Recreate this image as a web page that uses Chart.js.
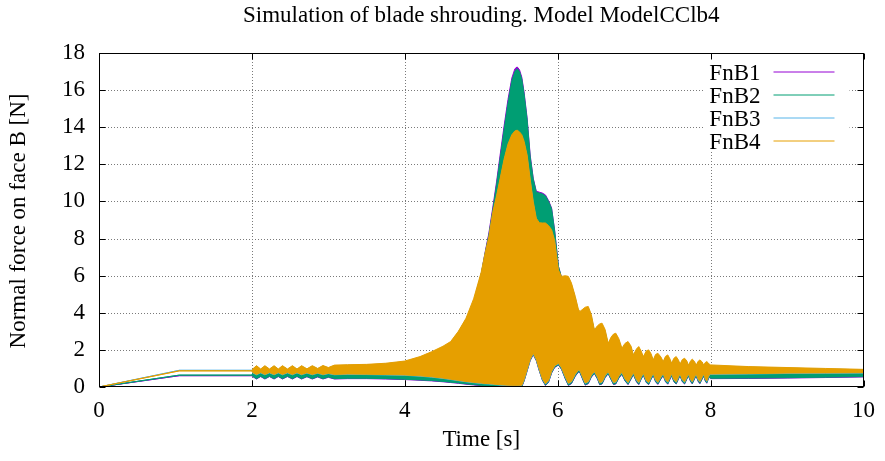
<!DOCTYPE html>
<html>
<head>
<meta charset="utf-8">
<script src="https://cdn.jsdelivr.net/npm/chart.js@4.4.1/dist/chart.umd.min.js"></script>
<style>
  html, body { margin: 0; padding: 0; background: #fff; }
  #wrap { width: 885px; height: 461px; position: relative; }
</style>
</head>
<body>
<div id="wrap"><canvas id="grafica"></canvas></div>
<script>
// ---------------------------------------------
// Normal force on face B -- envelopes of FnB1..4
// (each curve oscillates fast, so it is drawn as
//  the band between its upper and lower envelope)
// ---------------------------------------------

const seriesNames = ["FnB1", "FnB2", "FnB3", "FnB4"];
const xTicks = [0, 2, 4, 6, 8, 10];
const yTicks = [0, 2, 4, 6, 8, 10, 12, 14, 16, 18];

// time [s]
const time = [
  0, 1.05, 2.0, 2.01,
  2.06, 2.115, 2.17, 2.23, 2.29, 2.345, 2.40, 2.465, 2.53, 2.59, 2.65, 2.72, 2.79, 2.86, 2.93, 3.0, 3.08,
  3.25, 3.5, 3.75, 4.0, 4.2, 4.35, 4.5, 4.6, 4.7, 4.8, 4.9, 5.0, 5.05, 5.1, 5.15, 5.2, 5.25, 5.3, 5.35, 5.4,
  5.44, 5.47, 5.5, 5.53, 5.56, 5.6, 5.64, 5.68, 5.72, 5.76, 5.8, 5.84, 5.88, 5.92, 5.96, 6.01, 6.05,
  6.10, 6.14, 6.18, 6.23, 6.27, 6.29, 6.33, 6.36, 6.40, 6.44, 6.48, 6.52, 6.55, 6.58, 6.62, 6.66, 6.70, 6.73, 6.76,
  6.80, 6.84, 6.88, 6.92, 6.96, 6.99, 7.03, 7.06, 7.09, 7.12, 7.16, 7.19, 7.22, 7.25, 7.28, 7.31, 7.35, 7.38, 7.41, 7.44,
  7.47, 7.49, 7.52, 7.55, 7.58, 7.60, 7.63, 7.66, 7.69, 7.71, 7.74, 7.76, 7.79, 7.81, 7.84, 7.86, 7.89, 7.91, 7.93, 7.95, 7.97, 7.99,
  8.0, 8.5, 9.0, 9.5, 10.0
];

// FnB1 (purple)
const fnb1High = [
  0, 0.61, 0.61, 0.72,
  0.72, 0.72, 0.72, 0.72, 0.72, 0.72, 0.72, 0.72, 0.73, 0.73, 0.73, 0.74, 0.75, 0.76, 0.77, 0.77, 0.79,
  0.85, 0.90, 0.95, 1.05, 1.30, 1.60, 1.90, 2.20, 2.80, 3.50, 4.50, 6.10, 7.25, 8.30, 9.65, 11.05, 12.60, 14.10, 15.50, 16.65,
  17.15, 17.25, 17.10, 16.70, 15.90, 14.50, 12.50, 11.25, 10.55, 10.50, 10.45, 10.35, 10.05, 9.65, 8.45, 6.50, 5.90,
  5.80, 5.70, 5.40, 4.70, 4.05, 3.95, 4.05, 4.10, 4.10, 3.70, 3.00, 3.10, 3.20, 3.20, 2.90, 2.30, 2.50, 2.60, 2.60,
  2.40, 2.00, 2.20, 2.30, 2.00, 1.70, 1.90, 2.00, 1.80, 1.60, 1.80, 1.85, 1.70, 1.40, 1.60, 1.65, 1.50, 1.30, 1.50, 1.55,
  1.40, 1.25, 1.40, 1.50, 1.35, 1.20, 1.35, 1.40, 1.30, 1.15, 1.30, 1.35, 1.25, 1.15, 1.30, 1.35, 1.25, 1.15, 1.25, 1.30, 1.20, 1.00,
  0.75, 0.75, 0.76, 0.77, 0.78
];
const fnb1Low = [
  0, 0.61, 0.61, 0.56,
  0.43, 0.56, 0.43, 0.56, 0.43, 0.56, 0.43, 0.56, 0.43, 0.56, 0.43, 0.55, 0.43, 0.54, 0.43, 0.52, 0.43,
  0.45, 0.45, 0.43, 0.40, 0.36, 0.33, 0.28, 0.24, 0.20, 0.15, 0.11, 0.07, 0.05, 0.04, 0.03, 0.02, 0.02, 0.01, 0.01, 0.01,
  0.00, 0.00, 0.00, 0.01, 0.31, 0.86, 1.42, 1.74, 1.42, 0.86, 0.36, 0.08, 0.25, 0.75, 1.05, 1.18, 0.95,
  0.43, 0.08, 0.18, 0.58, 0.80, 0.78, 0.38, 0.10, 0.18, 0.53, 0.72, 0.43, 0.12, 0.16, 0.50, 0.71, 0.38, 0.13, 0.16,
  0.48, 0.68, 0.33, 0.13, 0.43, 0.66, 0.28, 0.13, 0.40, 0.63, 0.23, 0.13, 0.40, 0.62, 0.28, 0.14, 0.43, 0.61, 0.28, 0.15,
  0.43, 0.60, 0.28, 0.16, 0.43, 0.60, 0.28, 0.16, 0.43, 0.59, 0.28, 0.17, 0.43, 0.59, 0.28, 0.18, 0.43, 0.58, 0.33, 0.20, 0.43, 0.53,
  0.45, 0.46, 0.48, 0.51, 0.54
];

// FnB2 (green)
const fnb2High = [
  0, 0.64, 0.64, 0.75,
  0.75, 0.75, 0.75, 0.75, 0.75, 0.75, 0.75, 0.75, 0.76, 0.76, 0.76, 0.77, 0.78, 0.79, 0.80, 0.80, 0.82,
  0.85, 0.90, 0.95, 1.05, 1.30, 1.60, 1.90, 2.20, 2.80, 3.50, 4.50, 6.10, 7.20, 8.20, 9.50, 10.90, 12.40, 13.90, 15.30, 16.50,
  17.00, 17.15, 17.00, 16.60, 15.80, 14.40, 12.40, 11.20, 10.50, 10.45, 10.40, 10.30, 10.00, 9.60, 8.40, 6.50, 5.90,
  5.80, 5.70, 5.40, 4.70, 4.05, 3.95, 4.05, 4.10, 4.10, 3.70, 3.00, 3.10, 3.20, 3.20, 2.90, 2.30, 2.50, 2.60, 2.60,
  2.40, 2.00, 2.20, 2.30, 2.00, 1.70, 1.90, 2.00, 1.80, 1.60, 1.80, 1.85, 1.70, 1.40, 1.60, 1.65, 1.50, 1.30, 1.50, 1.55,
  1.40, 1.25, 1.40, 1.50, 1.35, 1.20, 1.35, 1.40, 1.30, 1.15, 1.30, 1.35, 1.25, 1.15, 1.30, 1.35, 1.25, 1.15, 1.25, 1.30, 1.20, 1.00,
  0.75, 0.75, 0.76, 0.77, 0.78
];
const fnb2Low = [
  0, 0.64, 0.64, 0.58,
  0.45, 0.58, 0.45, 0.58, 0.45, 0.58, 0.45, 0.58, 0.45, 0.58, 0.45, 0.57, 0.45, 0.56, 0.45, 0.54, 0.45,
  0.47, 0.47, 0.45, 0.42, 0.38, 0.35, 0.30, 0.26, 0.22, 0.17, 0.13, 0.09, 0.07, 0.06, 0.05, 0.04, 0.04, 0.03, 0.03, 0.03,
  0.02, 0.02, 0.02, 0.03, 0.33, 0.88, 1.44, 1.76, 1.44, 0.88, 0.38, 0.10, 0.27, 0.77, 1.07, 1.20, 0.97,
  0.45, 0.10, 0.20, 0.60, 0.82, 0.80, 0.40, 0.12, 0.20, 0.55, 0.74, 0.45, 0.14, 0.18, 0.52, 0.73, 0.40, 0.15, 0.18,
  0.50, 0.70, 0.35, 0.15, 0.45, 0.68, 0.30, 0.15, 0.42, 0.65, 0.25, 0.15, 0.42, 0.64, 0.30, 0.16, 0.45, 0.63, 0.30, 0.17,
  0.45, 0.62, 0.30, 0.18, 0.45, 0.62, 0.30, 0.18, 0.45, 0.61, 0.30, 0.19, 0.45, 0.61, 0.30, 0.20, 0.45, 0.60, 0.35, 0.22, 0.45, 0.55,
  0.47, 0.48, 0.50, 0.53, 0.56
];

// FnB3 (sky blue)
const fnb3High = [
  0, 0.90, 0.90, 0.95,
  1.12, 0.95, 1.12, 0.95, 1.12, 0.95, 1.12, 0.95, 1.12, 0.95, 1.12, 0.96, 1.12, 0.98, 1.13, 1.02, 1.15,
  1.17, 1.19, 1.25, 1.36, 1.60, 1.85, 2.15, 2.40, 2.95, 3.65, 4.55, 6.10, 7.10, 8.00, 9.30, 10.20, 11.20, 12.20, 13.00, 13.50,
  13.70, 13.75, 13.65, 13.50, 13.15, 12.40, 11.10, 9.90, 9.00, 8.75, 8.74, 8.74, 8.60, 8.38, 7.80, 6.20, 5.90,
  5.92, 5.88, 5.52, 4.80, 4.12, 4.00, 4.12, 4.22, 4.26, 3.82, 3.02, 3.22, 3.32, 3.36, 3.02, 2.30, 2.62, 2.77, 2.82,
  2.52, 2.03, 2.28, 2.38, 2.13, 1.68, 1.98, 2.11, 1.88, 1.59, 1.88, 1.93, 1.73, 1.41, 1.68, 1.75, 1.56, 1.32, 1.59, 1.66,
  1.44, 1.24, 1.49, 1.58, 1.39, 1.19, 1.42, 1.49, 1.34, 1.13, 1.36, 1.44, 1.32, 1.13, 1.34, 1.40, 1.29, 1.13, 1.27, 1.31, 1.25, 1.16,
  1.15, 1.07, 1.02, 0.97, 0.93
];
const fnb3Low = [
  0, 0.90, 0.90, 0.76,
  0.66, 0.76, 0.66, 0.76, 0.66, 0.76, 0.66, 0.76, 0.66, 0.76, 0.66, 0.75, 0.66, 0.74, 0.66, 0.72, 0.66,
  0.68, 0.67, 0.65, 0.63, 0.58, 0.53, 0.46, 0.40, 0.34, 0.28, 0.23, 0.19, 0.17, 0.16, 0.14, 0.12, 0.10, 0.09, 0.08, 0.07,
  0.07, 0.07, 0.07, 0.08, 0.38, 0.93, 1.48, 1.80, 1.48, 0.93, 0.43, 0.16, 0.33, 0.83, 1.13, 1.26, 1.03,
  0.53, 0.18, 0.28, 0.68, 0.90, 0.88, 0.48, 0.20, 0.28, 0.63, 0.82, 0.53, 0.22, 0.26, 0.60, 0.81, 0.48, 0.23, 0.26,
  0.58, 0.78, 0.43, 0.23, 0.53, 0.76, 0.38, 0.23, 0.50, 0.73, 0.33, 0.23, 0.50, 0.72, 0.38, 0.24, 0.53, 0.71, 0.38, 0.25,
  0.53, 0.70, 0.38, 0.26, 0.53, 0.70, 0.38, 0.26, 0.53, 0.69, 0.38, 0.27, 0.53, 0.69, 0.38, 0.28, 0.53, 0.68, 0.43, 0.30, 0.53, 0.68,
  0.68, 0.70, 0.73, 0.74, 0.75
];

// FnB4 (orange)
const fnb4High = [
  0, 0.87, 0.87, 0.97,
  1.15, 0.97, 1.15, 0.97, 1.15, 0.97, 1.15, 0.97, 1.15, 0.97, 1.15, 0.98, 1.15, 1.00, 1.16, 1.05, 1.18,
  1.20, 1.22, 1.28, 1.40, 1.64, 1.90, 2.20, 2.45, 3.00, 3.70, 4.75, 6.20, 7.20, 8.10, 9.40, 10.30, 11.30, 12.30, 13.10, 13.60,
  13.80, 13.84, 13.75, 13.60, 13.25, 12.50, 11.20, 10.00, 9.10, 8.85, 8.84, 8.84, 8.70, 8.48, 7.90, 6.30, 5.96,
  6.00, 5.96, 5.60, 4.88, 4.20, 4.07, 4.20, 4.30, 4.34, 3.90, 3.08, 3.30, 3.40, 3.44, 3.10, 2.36, 2.70, 2.85, 2.90,
  2.60, 2.09, 2.35, 2.45, 2.20, 1.73, 2.05, 2.18, 1.95, 1.64, 1.95, 2.00, 1.80, 1.46, 1.75, 1.82, 1.62, 1.37, 1.65, 1.73,
  1.50, 1.28, 1.55, 1.64, 1.45, 1.23, 1.48, 1.55, 1.40, 1.17, 1.42, 1.50, 1.38, 1.17, 1.40, 1.46, 1.35, 1.17, 1.32, 1.37, 1.30, 1.20,
  1.19, 1.10, 1.05, 1.00, 0.95
];
const fnb4Low = [
  0, 0.87, 0.87, 0.78,
  0.68, 0.78, 0.68, 0.78, 0.68, 0.78, 0.68, 0.78, 0.68, 0.78, 0.68, 0.77, 0.68, 0.76, 0.68, 0.74, 0.68,
  0.70, 0.69, 0.67, 0.65, 0.60, 0.55, 0.48, 0.42, 0.36, 0.30, 0.25, 0.21, 0.19, 0.18, 0.16, 0.14, 0.12, 0.11, 0.10, 0.09,
  0.09, 0.09, 0.09, 0.10, 0.40, 0.95, 1.50, 1.82, 1.50, 0.95, 0.45, 0.18, 0.35, 0.85, 1.15, 1.28, 1.05,
  0.55, 0.20, 0.30, 0.70, 0.92, 0.90, 0.50, 0.22, 0.30, 0.65, 0.84, 0.55, 0.24, 0.28, 0.62, 0.83, 0.50, 0.25, 0.28,
  0.60, 0.80, 0.45, 0.25, 0.55, 0.78, 0.40, 0.25, 0.52, 0.75, 0.35, 0.25, 0.52, 0.74, 0.40, 0.26, 0.55, 0.73, 0.40, 0.27,
  0.55, 0.72, 0.40, 0.28, 0.55, 0.72, 0.40, 0.28, 0.55, 0.71, 0.40, 0.29, 0.55, 0.71, 0.40, 0.30, 0.55, 0.70, 0.45, 0.32, 0.55, 0.70,
  0.70, 0.72, 0.75, 0.76, 0.77
];

const colores = ["#9400d3", "#009e73", "#56b4e9", "#e69f00"];
const altos = [fnb1High, fnb2High, fnb3High, fnb4High];
const bajos = [fnb1Low, fnb2Low, fnb3Low, fnb4Low];

const FUENTE = "'Liberation Serif', 'Times New Roman', serif";
const TAM = 23;

// each series = upper line filled down to its lower line ('+1')
const datasets = [];
seriesNames.forEach((nombre, k) => {
    const orden = 4 - k; // FnB4 on top, as gnuplot draws last series last
    datasets.push({
        label: nombre,
        data: time.map((t, i) => ({ x: t, y: altos[k][i] })),
        borderColor: colores[k],
        backgroundColor: colores[k],
        borderWidth: 1,
        pointRadius: 0,
        fill: "+1",
        order: orden
    });
    datasets.push({
        label: nombre + " (low)",
        data: time.map((t, i) => ({ x: t, y: bajos[k][i] })),
        borderColor: colores[k],
        backgroundColor: colores[k],
        borderWidth: 1,
        pointRadius: 0,
        fill: false,
        order: orden
    });
});

// grid, frame, inward tics, key and labels in gnuplot style
const marcoGnuplot = {
    id: "marcoGnuplot",
    beforeDatasetsDraw(chart) {
        const { ctx, chartArea: a, scales } = chart;
        ctx.save();
        ctx.strokeStyle = "#7a7a7a";
        ctx.lineWidth = 1;
        ctx.setLineDash([1, 2]);
        ctx.beginPath();
        xTicks.slice(1, -1).forEach(v => {
            const px = Math.round(scales.x.getPixelForValue(v)) + 0.5;
            ctx.moveTo(px, a.top);
            ctx.lineTo(px, a.bottom);
        });
        yTicks.slice(1, -1).forEach(v => {
            const py = Math.round(scales.y.getPixelForValue(v)) + 0.5;
            ctx.moveTo(a.left, py);
            ctx.lineTo(a.right, py);
        });
        ctx.stroke();
        ctx.setLineDash([]);
        // opaque key box
        ctx.fillStyle = "#fff";
        ctx.fillRect(a.right - 159, a.top + 4, 145, 94);
        ctx.restore();
    },
    afterDatasetsDraw(chart) {
        const { ctx, chartArea: a, scales } = chart;
        ctx.save();
        ctx.strokeStyle = "#000";
        ctx.lineWidth = 1;
        const L = Math.round(a.left) + 0.5, R = Math.round(a.right) - 0.5;
        const T = Math.round(a.top) + 0.5, B = Math.round(a.bottom) - 0.5;
        ctx.strokeRect(L, T, R - L, B - T);
        ctx.beginPath();
        xTicks.forEach(v => {
            const px = Math.round(scales.x.getPixelForValue(v)) + 0.5;
            ctx.moveTo(px, B); ctx.lineTo(px, B - 6);
            ctx.moveTo(px, T); ctx.lineTo(px, T + 6);
        });
        yTicks.forEach(v => {
            const py = Math.round(scales.y.getPixelForValue(v)) + 0.5;
            ctx.moveTo(L, py); ctx.lineTo(L + 6, py);
            ctx.moveTo(R, py); ctx.lineTo(R - 6, py);
        });
        ctx.stroke();

        // key
        ctx.font = TAM + "px " + FUENTE;
        ctx.fillStyle = "#000";
        ctx.textAlign = "right";
        ctx.textBaseline = "alphabetic";
        seriesNames.forEach((nombre, k) => {
            const yy = Math.round(a.top + 19 + k * 22.9);
            ctx.fillText(nombre, a.right - 103, yy + 7.5);
            ctx.strokeStyle = colores[k];
            ctx.beginPath();
            ctx.moveTo(a.right - 90, yy);
            ctx.lineTo(a.right - 29, yy);
            ctx.stroke();
        });

        // title and axis labels
        ctx.textAlign = "center";
        ctx.textBaseline = "middle";
        const cx = (a.left + a.right) / 2;
        ctx.fillText("Simulation of blade shrouding. Model ModelCClb4", cx, 16);
        ctx.fillText("Time [s]", cx, 440);
        ctx.translate(19, (a.top + a.bottom) / 2 + 1);
        ctx.rotate(-Math.PI / 2);
        ctx.fillText("Normal force on face B [N]", 0, 0);
        ctx.restore();
    }
};

const ctxFuerza = document.getElementById("grafica").getContext("2d");

new Chart(ctxFuerza, {
    type: "line",
    data: { datasets: datasets },
    options: {
        responsive: true,
        maintainAspectRatio: false,
        animation: false,
        layout: { padding: { left: 0, top: 53, right: 19, bottom: 0 } },
        plugins: {
            legend: { display: false },
            title: { display: false },
            tooltip: { enabled: false }
        },
        scales: {
            x: {
                type: "linear",
                min: 0,
                max: 10,
                afterBuildTicks: s => { s.ticks = xTicks.map(v => ({ value: v })); },
                ticks: { color: "#000", font: { family: FUENTE, size: TAM }, padding: 10, maxRotation: 0, autoSkip: false },
                grid: { display: false, drawTicks: false },
                border: { display: false },
                afterFit: s => { s.height = 74; }
            },
            y: {
                min: 0,
                max: 18,
                afterBuildTicks: s => { s.ticks = yTicks.map(v => ({ value: v })); },
                ticks: { color: "#000", font: { family: FUENTE, size: TAM }, padding: 14, autoSkip: false },
                grid: { display: false, drawTicks: false },
                border: { display: false },
                afterFit: s => { s.width = 99; }
            }
        }
    },
    plugins: [marcoGnuplot]
});
</script>
</body>
</html>
